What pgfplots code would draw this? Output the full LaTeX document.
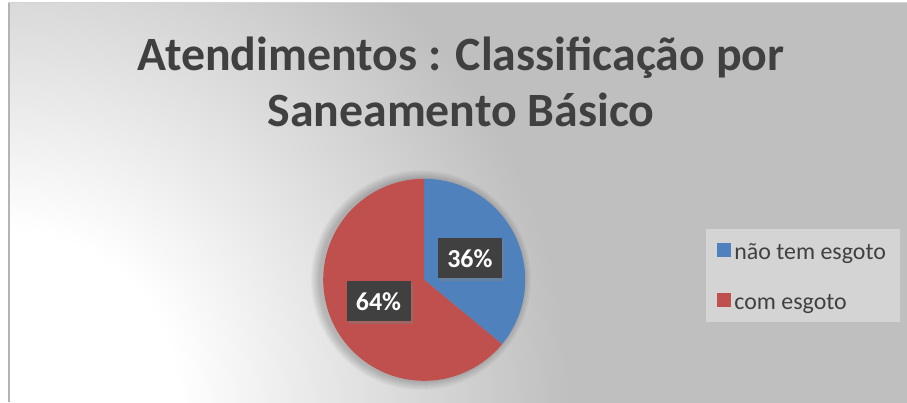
\documentclass[border=0pt]{standalone}
\usepackage{pgfplots}
\pgfplotsset{compat=1.18}
\usepackage{fontspec}
\setmainfont{Carlito}
\usetikzlibrary{shadows}
\definecolor{pieblue}{HTML}{4F81BD}
\definecolor{piered}{HTML}{C0504D}
\definecolor{bggrey}{HTML}{BFBFBF}
\definecolor{legbg}{HTML}{D4D4D4}
\definecolor{txtgrey}{HTML}{404040}
\definecolor{lblbox}{HTML}{404040}
\definecolor{bordergrey}{HTML}{B4B4B4}
\pgfdeclareradialshading{bgshade}{\pgfpoint{0bp}{0bp}}{color(0bp)=(white); color(170bp)=(white); color(560bp)=(bggrey); color(1000bp)=(bggrey)}
\def\vA{36}
\def\vB{64}
\begin{document}
\begin{tikzpicture}[x=1bp,y=1bp]
\fill[white] (0,0) rectangle (907,402);
\begin{scope}
\clip (8,0) rectangle (907,399);
\node[inner sep=0pt] at (8,0) {\pgfuseshading{bgshade}};
\end{scope}
\draw[line width=1.5bp, color=bordergrey] (8.75,0) -- (8.75,399.25);
\draw[line width=1bp, color=legbg] (8,399.5) -- (907,399.5);
\node[anchor=base, text=txtgrey, font=\bfseries\fontsize{48}{56}\selectfont, inner sep=0pt] at (461,332) {Atendimentos : Classificação por};
\node[anchor=base, text=txtgrey, font=\bfseries\fontsize{48}{56}\selectfont, inner sep=0pt] at (461,276) {Saneamento Básico};
\foreach \r in {102,103,...,110}{
  \fill[black, opacity=0.025] (421,122) circle[radius=\r];
}
\begin{axis}[
  at={(320,21)}, anchor=south west,
  width=202bp, height=202bp, scale only axis,
  xmin=-1, xmax=1, ymin=-1, ymax=1,
  hide axis, clip=false,
  legend style={at={(1.896,0.7525)}, anchor=north west, fill=legbg, draw=none,
    text=txtgrey, font=\fontsize{24}{28}\selectfont,
    inner xsep=11bp, inner ysep=7bp, row sep=21bp,
    nodes={inner ysep=2bp, inner xsep=3bp, text height=22bp, text depth=3bp}},
  legend cell align=left,
  legend image code/.code={\fill[#1] (0bp,-7bp) rectangle (14bp,7bp);},
]
\addplot[fill=pieblue, draw=none, domain=0:\vA, samples=80]
  ({sin(3.6*x)}, {cos(3.6*x)}) -- (axis cs:0,0) -- cycle;
\addlegendentry{não tem esgoto}
\addplot[fill=piered, draw=none, domain=\vA:100, samples=120]
  ({sin(3.6*x)}, {cos(3.6*x)}) -- (axis cs:0,0) -- cycle;
\addlegendentry{com esgoto}
\node[fill=lblbox, text=white, font=\bfseries\fontsize{26}{30}\selectfont,
  minimum width=64bp, minimum height=40bp, inner sep=0pt,
  drop shadow={shadow xshift=2bp, shadow yshift=-3bp, opacity=0.45}]
  at (axis cs:{0.5*sin(3.6*\vA/2)},{0.5*cos(3.6*\vA/2)}) {\vA\%};
\node[fill=lblbox, text=white, font=\bfseries\fontsize{26}{30}\selectfont,
  minimum width=64bp, minimum height=40bp, inner sep=0pt,
  drop shadow={shadow xshift=2bp, shadow yshift=-3bp, opacity=0.45}]
  at (axis cs:{0.5*sin(3.6*(\vA+\vB/2))},{0.5*cos(3.6*(\vA+\vB/2))}) {\vB\%};
\end{axis}
\pgfresetboundingbox
\useasboundingbox (0,0) rectangle (907,402);
\end{tikzpicture}
\end{document}
